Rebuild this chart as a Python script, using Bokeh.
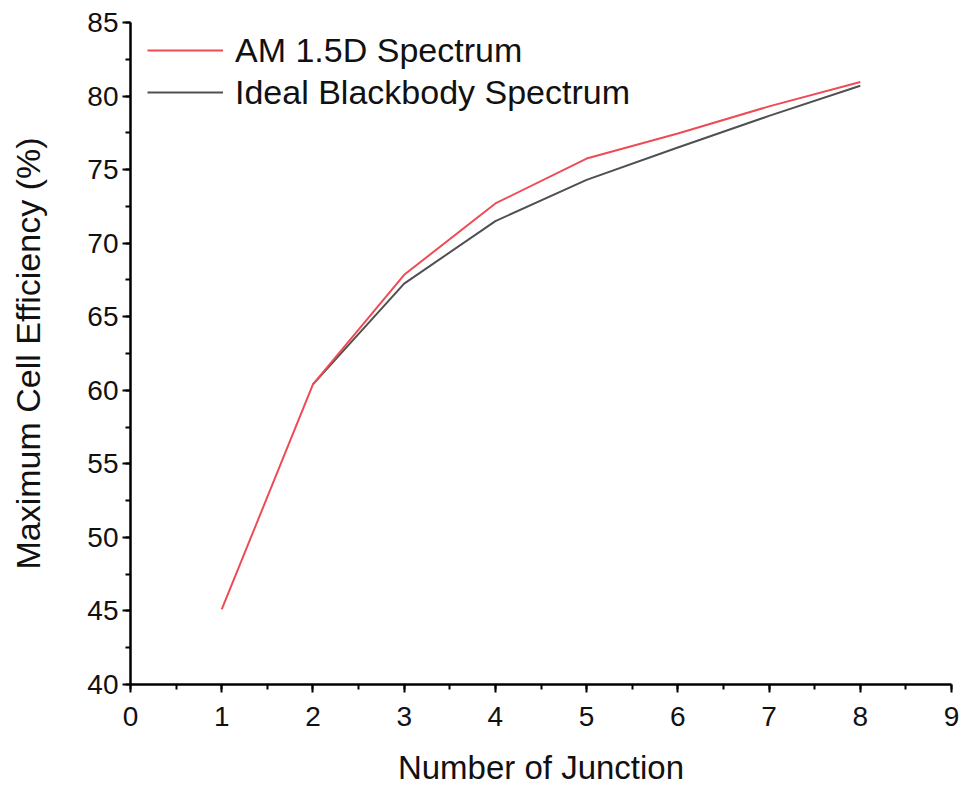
from bokeh.plotting import figure
from bokeh.models import Range1d, SingleIntervalTicker, Legend, LegendItem
from bokeh.embed import file_html
from bokeh.resources import INLINE

junctions_am = [1, 2, 3, 4, 5, 6, 7, 8]
eff_am15d = [45.1, 60.4, 67.85, 72.7, 75.75, 77.45, 79.3, 80.95]
junctions_bb = [2, 3, 4, 5, 6, 7, 8]
eff_blackbody = [60.4, 67.25, 71.5, 74.3, 76.5, 78.65, 80.7]

FONT = "Liberation Sans"

p = figure(frame_width=821, frame_height=662,
           min_border_left=130, min_border_right=10,
           min_border_top=22, min_border_bottom=101,
           x_range=Range1d(0, 9), y_range=Range1d(40, 85),
           output_backend="svg", toolbar_location=None,
           background_fill_color="white", border_fill_color="white")
p.outline_line_color = None
p.xgrid.visible = False
p.ygrid.visible = False

r_bb = p.line(junctions_bb, eff_blackbody, line_color="#505050", line_width=2)
r_am = p.line(junctions_am, eff_am15d, line_color="#EE4B55", line_width=2)

p.xaxis.ticker = SingleIntervalTicker(interval=1, num_minor_ticks=2)
p.yaxis.ticker = SingleIntervalTicker(interval=5, num_minor_ticks=2)

for ax in (p.xaxis[0], p.yaxis[0]):
    ax.axis_line_width = 2.5
    ax.axis_line_color = "black"
    ax.major_tick_line_width = 2
    ax.minor_tick_line_width = 2
    ax.major_tick_line_color = "black"
    ax.minor_tick_line_color = "black"
    ax.major_tick_out = 8
    ax.major_tick_in = 0
    ax.minor_tick_out = 5
    ax.minor_tick_in = 0
    ax.major_label_text_font = FONT
    ax.major_label_text_font_size = "28px"
    ax.major_label_text_color = "#111111"
    ax.axis_label_text_font = FONT
    ax.axis_label_text_font_style = "normal"
    ax.axis_label_text_color = "#111111"

p.xaxis.axis_label = "Number of Junction"
p.xaxis.axis_label_text_font_size = "33px"
p.xaxis.major_label_standoff = 14
p.xaxis.axis_label_standoff = 20

p.yaxis.axis_label = "Maximum Cell Efficiency (%)"
p.yaxis.axis_label_text_font_size = "34px"
p.yaxis.major_label_standoff = 4
p.yaxis.axis_label_standoff = 37

legend = Legend(items=[LegendItem(label="AM 1.5D Spectrum", renderers=[r_am]),
                       LegendItem(label="Ideal Blackbody Spectrum", renderers=[r_bb])],
                location=(17, 572), padding=0, margin=0, spacing=2,
                glyph_width=76, glyph_height=40, label_height=40,
                label_standoff=12,
                label_text_font=FONT, label_text_font_size="34px",
                label_text_color="#111111",
                border_line_color=None, background_fill_alpha=0)
p.add_layout(legend)

open("out.html", "w").write(file_html(p, INLINE))
